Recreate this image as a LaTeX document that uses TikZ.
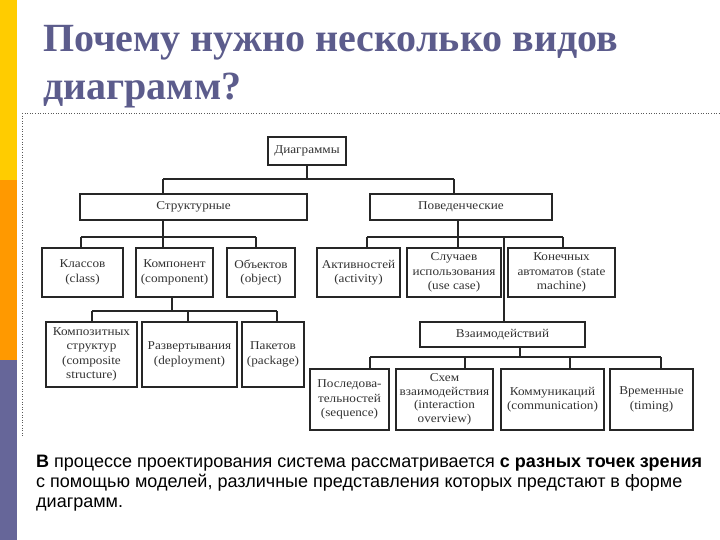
\documentclass[tikz,border=0pt]{standalone}
\usepackage{fontspec}
\setmainfont{Liberation Serif}
\newfontfamily\arialf{Liberation Sans}
\newfontfamily\diagf[FakeStretch=1.1]{Liberation Serif}
\definecolor{stripY}{HTML}{FFCC00}
\definecolor{stripO}{HTML}{FF9900}
\definecolor{stripP}{HTML}{666699}
\definecolor{titlec}{HTML}{5C5C8C}
\definecolor{boxline}{HTML}{262626}
\definecolor{boxtext}{HTML}{333333}
\begin{document}
\begin{tikzpicture}[x=1pt,y=-1pt,
  box/.style={draw=boxline, line width=1.2pt, fill=white, align=center,
    font=\diagf\fontsize{12}{14.5}\selectfont, text=boxtext, inner sep=0pt},
  conn/.style={draw=boxline, line width=1.2pt},
  thickconn/.style={draw=boxline, line width=2.4pt},
  frameline/.style={draw=black!65, dotted, line width=0.6pt}]
\useasboundingbox (0,0) rectangle (720,540);
\fill[white] (0,0) rectangle (720,540);
% side strip
\fill[stripY] (0,0) rectangle (17,180);
\fill[stripO] (0,180) rectangle (17,360);
\fill[stripP] (0,360) rectangle (17,540);
% dotted frame
\draw[frameline] (22,113) -- (720,113);
\draw[frameline] (22,113) -- (22,437);
% title (base anchor = baseline of last line)
\node[anchor=base west, inner sep=0pt, text=titlec, font=\fontsize{40}{48}\selectfont\bfseries, align=left] (title) at (43,100)
  {Почему нужно несколько видов\\диаграмм?};
% boxes
\node[box, minimum width=78, minimum height=28] (diag) at (307,151) {Диаграммы};
\node[box, minimum width=227, minimum height=26] (struct) at (193.5,207) {Структурные};
\node[box, minimum width=182, minimum height=26] (beh) at (461,207) {Поведенческие};
\node[box, minimum width=81, minimum height=49] (cls) at (82.5,272.5) {Классов\\(class)};
\node[box, minimum width=77, minimum height=49] (comp) at (174.5,272.5) {Компонент\\(component)};
\node[box, minimum width=68, minimum height=49] (obj) at (261,272.5) {Объектов\\(object)};
\node[box, minimum width=83, minimum height=49] (act) at (358.5,272.5) {Активностей\\(activity)};
\node[box, minimum width=94, minimum height=49] (uc) at (454,272.5) {Случаев\\использования\\(use case)};
\node[box, minimum width=107, minimum height=49] (sm) at (561.5,272.5) {Конечных\\автоматов (state\\machine)};
\node[box, minimum width=91, minimum height=65] (cs) at (91.5,354.5) {Композитных\\структур\\(composite\\structure)};
\node[box, minimum width=95, minimum height=65] (dep) at (189.5,354.5) {Развертывания\\(deployment)};
\node[box, minimum width=62, minimum height=65] (pkg) at (273,354.5) {Пакетов\\(package)};
\node[box, minimum width=165, minimum height=25] (inter) at (502.5,334.5) {Взаимодействий};
\node[box, minimum width=79, minimum height=61] (seq) at (349.5,399.5) {Последова-\\тельностей\\(sequence)};
\node[box, minimum width=97, minimum height=61, font=\diagf\fontsize{12}{13.5}\selectfont] (io) at (444.5,399.5) {Схем\\взаимодействия\\(interaction\\overview)};
\node[box, minimum width=103, minimum height=61] (com) at (552.5,399.5) {Коммуникаций\\(communication)};
\node[box, minimum width=83, minimum height=61] (tim) at (651.5,399.5) {Временные\\(timing)};
% bus coordinates
\coordinate (b1L) at (163,179);
\coordinate (b1R) at (454,179);
\coordinate (b2L) at (81,237);
\coordinate (b2M) at (163,237);
\coordinate (b2R) at (256,237);
\coordinate (b3L) at (367,237);
\coordinate (b3M) at (458,237);
\coordinate (b3T) at (504,237);
\coordinate (b3R) at (563,237);
\coordinate (b4L) at (370,357);
\coordinate (b4M) at (520,357);
\coordinate (b4A) at (465,357);
\coordinate (b4B) at (570,357);
\coordinate (b4R) at (661,357);
\coordinate (b5L) at (92,311);
\coordinate (b5M) at (172,311);
\coordinate (b5A) at (188,311);
\coordinate (b5R) at (277,311);
% connectors level 1
\draw[conn] (diag.south) -- (diag.south |- b1L);
\draw[conn] (b1L) -- (b1R);
\draw[conn] (b1L) -- (b1L |- struct.north);
\draw[conn] (b1R) -- (b1R |- beh.north);
% structural children
\draw[conn] (b2M |- struct.south) -- (b2M |- comp.north);
\draw[conn] (b2L) -- (b2R);
\draw[conn] (b2L) -- (b2L |- cls.north);
\draw[conn] (b2R) -- (b2R |- obj.north);
% behavioural children
\draw[conn] (b3M |- beh.south) -- (b3M |- uc.north);
\draw[conn] (b3L) -- (b3R);
\draw[conn] (b3L) -- (b3L |- act.north);
\draw[conn] (b3R) -- (b3R |- sm.north);
\draw[thickconn] (b3T) -- (b3T |- inter.north);
% interaction children
\draw[conn] (b4M |- inter.south) -- (b4M);
\draw[conn] (b4L) -- (b4R);
\draw[conn] (b4L) -- (b4L |- seq.north);
\draw[thickconn] (b4A) -- (b4A |- io.north);
\draw[conn] (b4B) -- (b4B |- com.north);
\draw[conn] (b4R) -- (b4R |- tim.north);
% component children
\draw[conn] (b5M |- comp.south) -- (b5M);
\draw[conn] (b5L) -- (b5R);
\draw[conn] (b5L) -- (b5L |- cs.north);
\draw[conn] (b5A) -- (b5A |- dep.north);
\draw[conn] (b5R) -- (b5R |- pkg.north);
% bottom text (base anchor = baseline of last line)
\node[anchor=base west, inner sep=0pt, align=left, font=\arialf\fontsize{18}{20}\selectfont] (note) at (36,507)
  {\textbf{В} процессе проектирования система рассматривается \textbf{с разных точек зрения}\\
   с помощью моделей, различные представления которых предстают в форме\\
   диаграмм.};
\end{tikzpicture}
\end{document}
